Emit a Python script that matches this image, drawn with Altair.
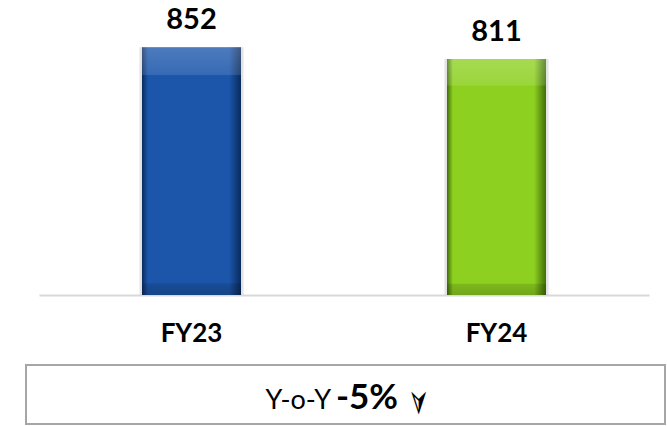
import altair as alt
import pandas as pd

# Fiscal years and their totals
years = ["FY23", "FY24"]
values = [852, 811]

# Year-on-year summary
yoy_prefix = ["Y-o-Y"]
yoy_change = ["-5%"]
yoy_arrow = ["\u27a3"]

df = pd.DataFrame({"year": years, "value": values})

# bevel palettes per year: (dark edge, body)
palette = {
    "FY23": ("#0a2a5c", "#1b56ab"),
    "FY24": ("#3f6e08", "#8dd020"),
}

x_enc = alt.X(
    "year:N",
    sort=years,
    scale=alt.Scale(paddingInner=0, paddingOuter=0),
    axis=alt.Axis(
        title=None, labels=False, ticks=False, grid=False,
        domain=True, domainColor="#d9d9d9", domainWidth=2,
    ),
)
y_enc = alt.Y("value:Q", scale=alt.Scale(domain=[0, 1014]), axis=None)

base = alt.Chart(df)

# soft shadow behind the bars
layers = [
    base.mark_bar(size=104, color="#d0d0d0", opacity=0.6).encode(x=x_enc, y=y_enc)
]
for yr in years:
    dark, mid = palette[yr]
    body = alt.Gradient(
        gradient="linear", x1=0, x2=1, y1=0, y2=0,
        stops=[
            alt.GradientStop(color=dark, offset=0),
            alt.GradientStop(color=mid, offset=0.06),
            alt.GradientStop(color=mid, offset=0.88),
            alt.GradientStop(color=dark, offset=1),
        ],
    )
    bevel = alt.Gradient(
        gradient="linear", x1=0, x2=0, y1=0, y2=1,
        stops=[
            alt.GradientStop(color="rgba(255,255,255,0.22)", offset=0),
            alt.GradientStop(color="rgba(255,255,255,0.12)", offset=0.11),
            alt.GradientStop(color="rgba(255,255,255,0)", offset=0.115),
            alt.GradientStop(color="rgba(0,0,0,0)", offset=0.95),
            alt.GradientStop(color="rgba(0,0,0,0.12)", offset=0.955),
            alt.GradientStop(color="rgba(0,0,0,0.2)", offset=1),
        ],
    )
    sel = base.transform_filter(alt.datum.year == yr)
    layers.append(sel.mark_bar(size=99, color=body).encode(x=x_enc, y=y_enc))
    layers.append(sel.mark_bar(size=99, color=bevel).encode(x=x_enc, y=y_enc))

value_labels = base.mark_text(
    font="Lato", fontWeight="bold", fontSize=29, color="#000000",
    baseline="alphabetic", dy=-18,
).encode(x=x_enc, y=y_enc, text="value:Q")

year_labels = base.mark_text(
    font="Lato", fontWeight="bold", fontSize=26, color="#000000",
    baseline="alphabetic",
).encode(x=x_enc, y=alt.value(342), text="year:N")

box = alt.Chart(pd.DataFrame({"change": yoy_change})).mark_rect(
    fillOpacity=0, stroke="#a6a6a6", strokeWidth=2,
).encode(
    x=alt.value(-13), x2=alt.value(626), y=alt.value(365), y2=alt.value(424)
)

prefix_text = alt.Chart(pd.DataFrame({"t": yoy_prefix})).mark_text(
    font="Lato", fontSize=27, color="#000000", align="right", baseline="alphabetic",
).encode(x=alt.value(292), y=alt.value(409), text="t:N")

change_text = alt.Chart(pd.DataFrame({"t": yoy_change})).mark_text(
    font="Lato", fontWeight="bold", fontSize=35, color="#000000", align="left",
    baseline="alphabetic",
).encode(x=alt.value(297), y=alt.value(409), text="t:N")

arrow_text = alt.Chart(pd.DataFrame({"t": yoy_arrow})).mark_text(
    font="DejaVu Sans", fontSize=34, color="#000000", align="center",
    baseline="middle", angle=90,
).encode(x=alt.value(379), y=alt.value(402), text="t:N")

chart = alt.layer(
    *layers, value_labels, year_labels, box, prefix_text, change_text, arrow_text
).properties(
    width=610,
    height=295,
    padding={"left": 39, "top": 0, "right": 18, "bottom": 131},
    autosize=alt.AutoSizeParams(type="none"),
    background="#ffffff",
).configure_view(stroke=None)

chart.save("out.html", embed_options={"renderer": "svg", "actions": False})
